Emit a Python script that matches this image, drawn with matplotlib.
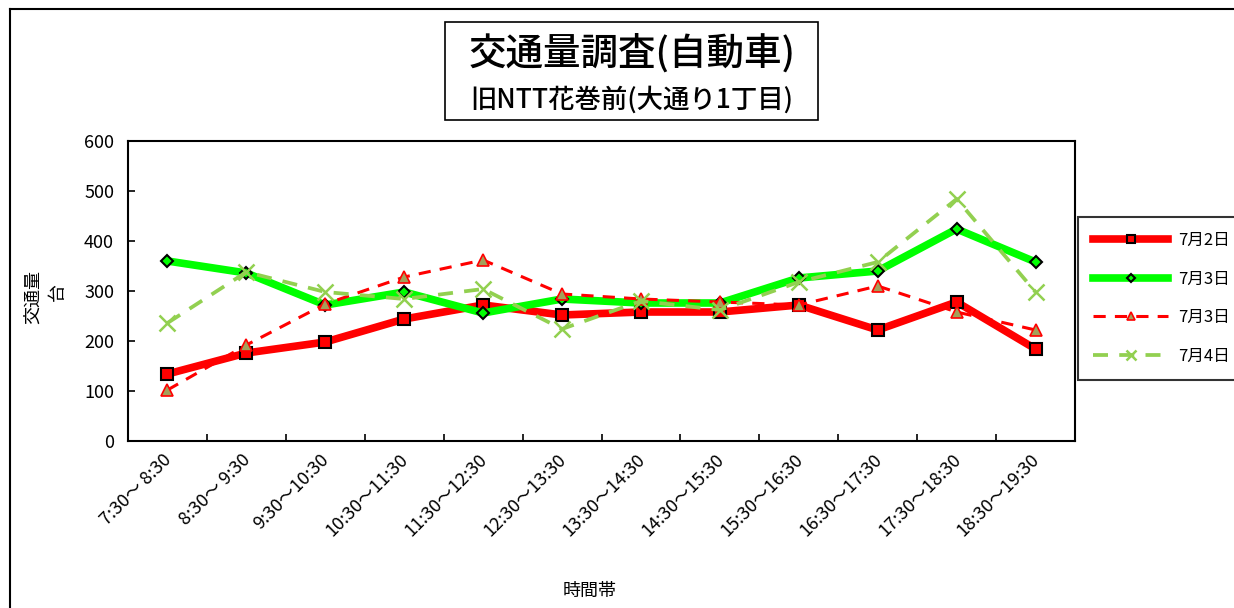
import matplotlib
matplotlib.use('Agg')
import matplotlib.pyplot as plt
import matplotlib.transforms as mtransforms
from matplotlib.lines import Line2D
from matplotlib.patches import Rectangle

plt.rcParams['font.family'] = ['Noto Sans CJK JP', 'DejaVu Sans']

# データ
time_slots = ['7:30～ 8:30', '8:30～ 9:30', '9:30～10:30', '10:30～11:30',
              '11:30～12:30', '12:30～13:30', '13:30～14:30', '14:30～15:30',
              '15:30～16:30', '16:30～17:30', '17:30～18:30', '18:30～19:30']
jul2 = [134, 176, 198, 244, 272, 252, 258, 258, 272, 222, 278, 184]
jul3 = [360, 336, 272, 298, 256, 284, 276, 276, 326, 340, 424, 358]
jul3b = [102, 192, 274, 328, 362, 294, 284, 278, 272, 310, 258, 222]
jul4 = [236, 338, 298, 284, 304, 224, 280, 262, 318, 358, 484, 298]
series_names = ['7月2日', '7月3日', '7月3日', '7月4日']

W, H = 1234, 608
fig = plt.figure(figsize=(W / 100, H / 100), dpi=100)

# 外枠
fig.add_artist(Line2D([10 / W, 10 / W], [0, 1 - 9 / H], color='black', lw=1.5))
fig.add_artist(Line2D([10 / W, 1], [1 - 9 / H, 1 - 9 / H], color='black', lw=1.5))

# タイトル枠
fig.add_artist(Rectangle((445 / W, 1 - 120 / H), (818 - 445) / W, 98 / H,
                         fill=False, edgecolor='black', lw=1.2, transform=fig.transFigure))
fig.text(632 / W, 1 - 53 / H, '交通量調査(自動車)', ha='center', va='center',
         fontsize=27, fontweight='medium')
fig.text(632 / W, 1 - 100 / H, '旧NTT花巻前(大通り1丁目)', ha='center', va='center',
         fontsize=19, fontweight='medium')

ax = fig.add_axes([128 / W, 1 - 441 / H, (1075 - 128) / W, 300 / H])
x = list(range(len(time_slots)))

ax.plot(x, jul2, color='#FF0000', lw=5.5, marker='s', markersize=9,
        markerfacecolor='#FF0000', markeredgecolor='black', markeredgewidth=1.5,
        label=series_names[0], zorder=3)
ax.plot(x, jul3, color='#00FF00', lw=5.5, marker='D', markersize=6,
        markerfacecolor='#00FF00', markeredgecolor='black', markeredgewidth=1.5,
        label=series_names[1], zorder=3)
ax.plot(x, jul3b, color='#FF0000', lw=2.2, ls=(0, (4, 3)), marker='^', markersize=9,
        markerfacecolor='#A3A05A', markeredgecolor='#FF0000', markeredgewidth=1.2,
        label=series_names[2], zorder=4)
ax.plot(x, jul4, color='#92D050', lw=2.7, ls=(0, (4, 3)), marker='x', markersize=11,
        markeredgewidth=1.8, label=series_names[3], zorder=4)

ax.set_xlim(-0.5, len(time_slots) - 0.5)
ax.set_ylim(0, 600)
ax.set_yticks(range(0, 601, 100))
ax.set_xticks([i + 0.5 for i in range(len(time_slots) - 1)])
ax.set_xticklabels([])
ax.set_xticks(x, minor=True)
ax.set_xticklabels(time_slots, minor=True, rotation=45, ha='right',
                   rotation_mode='anchor', fontsize=13)
ax.tick_params(axis='x', which='major', direction='in', length=5, width=1.2)
ax.tick_params(axis='x', which='minor', length=0, pad=7)
ax.tick_params(axis='y', direction='in', length=5, width=1.2, labelsize=13, pad=10)
# ラベルを少し左へ
shift = mtransforms.ScaledTranslation(-5 / 100, 0, fig.dpi_scale_trans)
for lbl in ax.get_xticklabels(minor=True):
    lbl.set_transform(lbl.get_transform() + shift)
for s in ax.spines.values():
    s.set_linewidth(1.5)

# 縦軸ラベル
fig.text(33 / W, 1 - 297 / H, '交通量', rotation=90, ha='center', va='center', fontsize=13)
fig.text(58 / W, 1 - 292 / H, '台', rotation=90, ha='center', va='center', fontsize=13)
fig.text(590 / W, 1 - 591 / H, '時間帯', ha='center', va='center', fontsize=13)

leg = fig.legend(loc='upper left', bbox_to_anchor=(1078 / W, 1 - 217 / H),
                 bbox_transform=fig.transFigure, frameon=True, fancybox=False,
                 edgecolor='black', fontsize=12, handlelength=4.5, labelspacing=1.3,
                 borderpad=0.9, handletextpad=0.6, borderaxespad=0, markerscale=0.7)
leg.get_frame().set_linewidth(1.5)

fig.savefig('out.png', dpi=100)
